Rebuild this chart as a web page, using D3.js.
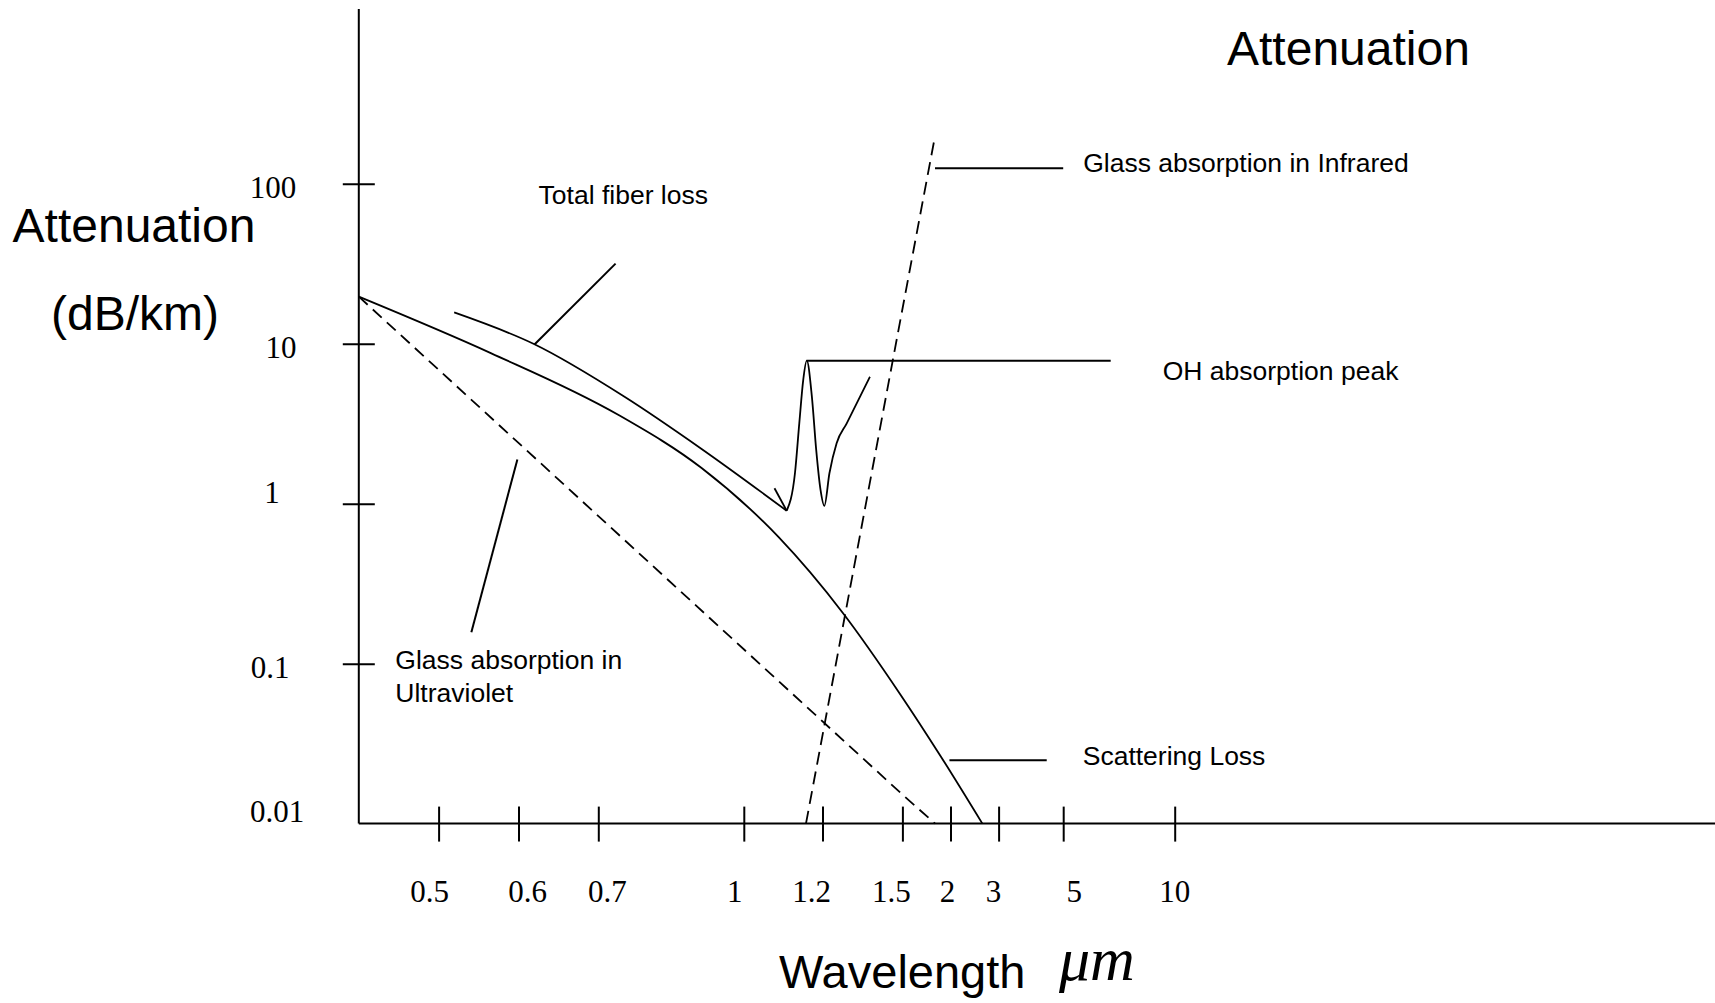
<!DOCTYPE html>
<html>
<head>
<meta charset="utf-8">
<script src="https://cdn.jsdelivr.net/npm/d3@7/dist/d3.min.js"></script>
<style>
  html, body { margin: 0; padding: 0; background: #fff; }
  svg { display: block; }
</style>
</head>
<body>
<div id="chart"></div>
<script>
// wavelength ticks (um) on the hand-drawn x axis, attenuation ticks (dB/km)
const xTicks = [0.5, 0.6, 0.7, 1, 1.2, 1.5, 2, 3, 5, 10];
const yTicks = [100, 10, 1, 0.1, 0.01];

// curves as [wavelength um, attenuation dB/km]
const scatteringLoss = [
  [0.4, 19.7], [0.566, 8.71], [0.74, 3.61], [0.913, 1.67], [1.088, 0.62],
  [1.278, 0.206], [1.491, 0.0647], [1.901, 0.0262], [2.663, 0.01]
];
const totalFiberLoss = [
  [0.5195, 15.7], [0.6187, 10.0], [0.7557, 4.63], [0.913, 2.2],
  [1.109, 0.904], [1.13, 1.55], [1.141, 3.18], [1.151, 5.93], [1.16, 7.84],
  [1.173, 4.67], [1.184, 2.17], [1.195, 1.22], [1.207, 0.97], [1.226, 1.55],
  [1.253, 2.39], [1.291, 3.18], [1.378, 6.22]
];
const uvAbsorption = [[0.4, 19.7], [0.6, 2.4], [1.0, 0.123], [1.5, 0.0152], [1.84, 0.01]];
const irAbsorption = [[1.158, 0.01], [1.464, 7.9], [1.833, 190]];
const ohTick = [[1.078, 1.25], [1.109, 0.904]];

// annotation leaders: label text, and line ends in data units
const leaderTotal = { text: ["Total fiber loss"], from: [0.62, 9.89], to: [0.7356, 31.7] };
const leaderIR = { text: ["Glass absorption in Infrared"], from: [1.839, 125], to: [5.0, 125] };
const leaderOH = { text: ["OH absorption peak"], from: [1.16, 7.84], to: [7.13, 7.84] };
const leaderUV = { text: ["Glass absorption in", "Ultraviolet"], from: [0.5986, 1.89], to: [0.541, 0.157] };
const leaderScat = { text: ["Scattering Loss"], from: [1.989, 0.0249], to: [4.49, 0.0249] };

const width = 1715, height = 1003;
const sans = "'Liberation Sans', Arial, sans-serif";
const serif = "'Liberation Serif', 'Times New Roman', serif";

const svg = d3.select("#chart").append("svg")
  .attr("width", width)
  .attr("height", height);

svg.append("rect").attr("width", width).attr("height", height).attr("fill", "#fff");

// x axis is not uniform in the original drawing, so a piecewise scale
const x = d3.scaleLinear()
  .domain([0.4, ...xTicks])
  .range([358.8, 438.6, 518.5, 598.3, 743.8, 822.5, 902.4, 950.5, 998.6, 1063.2, 1174.7]);

const y = d3.scaleLog()
  .domain([0.01, 100])
  .range([823.6, 183.8]);

const x0 = x(0.4), y0 = y(0.01);

// axes
svg.append("g")
  .attr("transform", `translate(0,${y0})`)
  .call(d3.axisBottom(x).tickValues(xTicks).tickFormat("").tickSizeOuter(0))
  .call(g => g.select(".domain").remove())
  .call(g => g.selectAll(".tick line").attr("y1", -17).attr("y2", 18)
    .attr("stroke", "#000").attr("stroke-width", 2));

svg.append("g")
  .attr("transform", `translate(${x0},0)`)
  .call(d3.axisLeft(y).tickValues(yTicks.filter(d => d > 0.01)).tickFormat("").tickSizeOuter(0))
  .call(g => g.select(".domain").remove())
  .call(g => g.selectAll(".tick line").attr("x1", 16).attr("x2", -16)
    .attr("stroke", "#000").attr("stroke-width", 2));

svg.append("line")
  .attr("x1", x0).attr("x2", width)
  .attr("y1", y0).attr("y2", y0)
  .attr("stroke", "#000").attr("stroke-width", 2);

svg.append("line")
  .attr("x1", x0).attr("x2", x0)
  .attr("y1", 9).attr("y2", y0)
  .attr("stroke", "#000").attr("stroke-width", 2);

// tick labels (hand placed in the original, nudged a little)
const xNudge = { 0.5: -9, 0.6: 9, 0.7: 9, 1: -9, 1.2: -11, 1.5: -11, 2: -3, 3: -5, 5: 11, 10: 0 };
svg.append("g").selectAll("text")
  .data(xTicks)
  .enter().append("text")
  .attr("x", d => x(d) + (xNudge[d] || 0))
  .attr("y", 902)
  .attr("text-anchor", "middle")
  .style("font-family", serif)
  .style("font-size", "31px")
  .text(d => d);

const yNudge = { 100: [-2, 14], 10: [6, 14], 1: [-3, -1], 0.1: [-5, 14], 0.01: [2, -2] };
svg.append("g").selectAll("text")
  .data(yTicks)
  .enter().append("text")
  .attr("x", d => 275 + yNudge[d][0])
  .attr("y", d => y(d) + yNudge[d][1])
  .attr("text-anchor", "middle")
  .style("font-family", serif)
  .style("font-size", "31px")
  .text(d => d);

// curves
const line = d3.line()
  .x(d => x(d[0]))
  .y(d => y(d[1]));

const smooth = d3.line()
  .x(d => x(d[0]))
  .y(d => y(d[1]))
  .curve(d3.curveMonotoneX);

function drawPath(data, gen, dash) {
  const p = svg.append("path")
    .datum(data)
    .attr("fill", "none")
    .attr("stroke", "#000")
    .attr("stroke-width", 1.8)
    .attr("d", gen);
  if (dash) p.attr("stroke-dasharray", dash);
}

drawPath(scatteringLoss, smooth);

// total loss has a sharp corner at its minimum, before the OH peak
const minIdx = d3.minIndex(totalFiberLoss, d => d[1]);
drawPath(totalFiberLoss.slice(0, minIdx + 1), smooth);
drawPath(totalFiberLoss.slice(minIdx), smooth);
drawPath(ohTick, line);

drawPath(uvAbsorption, line, "12,7");
drawPath(irAbsorption, line, "13,7");

// annotations
function leader(a, dx, dy) {
  svg.append("line")
    .attr("x1", x(a.from[0])).attr("y1", y(a.from[1]))
    .attr("x2", x(a.to[0])).attr("y2", y(a.to[1]))
    .attr("stroke", "#000").attr("stroke-width", 2);
  const t = svg.append("text")
    .attr("x", x(a.to[0]) + dx)
    .attr("y", y(a.to[1]) + dy)
    .style("font-family", sans)
    .style("font-size", "26.5px");
  a.text.forEach((s, i) => {
    t.append("tspan")
      .attr("x", x(a.to[0]) + dx)
      .attr("dy", i === 0 ? 0 : 32.6)
      .text(s);
  });
}

leader(leaderTotal, -77, -60);
leader(leaderIR, 20, 4);
leader(leaderOH, 52, 19);
leader(leaderUV, -76, 37);
leader(leaderScat, 36, 5);

// titles
svg.append("text")
  .attr("x", 1227).attr("y", 65)
  .style("font-family", sans).style("font-size", "48px")
  .text("Attenuation");

svg.append("text")
  .attr("x", 134).attr("y", 242)
  .attr("text-anchor", "middle")
  .style("font-family", sans).style("font-size", "48px")
  .text("Attenuation");

svg.append("text")
  .attr("x", 135).attr("y", 330)
  .attr("text-anchor", "middle")
  .style("font-family", sans).style("font-size", "48px")
  .text("(dB/km)");

svg.append("text")
  .attr("x", 779).attr("y", 988)
  .style("font-family", sans).style("font-size", "47px")
  .text("Wavelength");

svg.append("text")
  .attr("x", 1059).attr("y", 980)
  .style("font-family", serif).style("font-style", "italic").style("font-size", "62px")
  .text("μm");
</script>
</body>
</html>
